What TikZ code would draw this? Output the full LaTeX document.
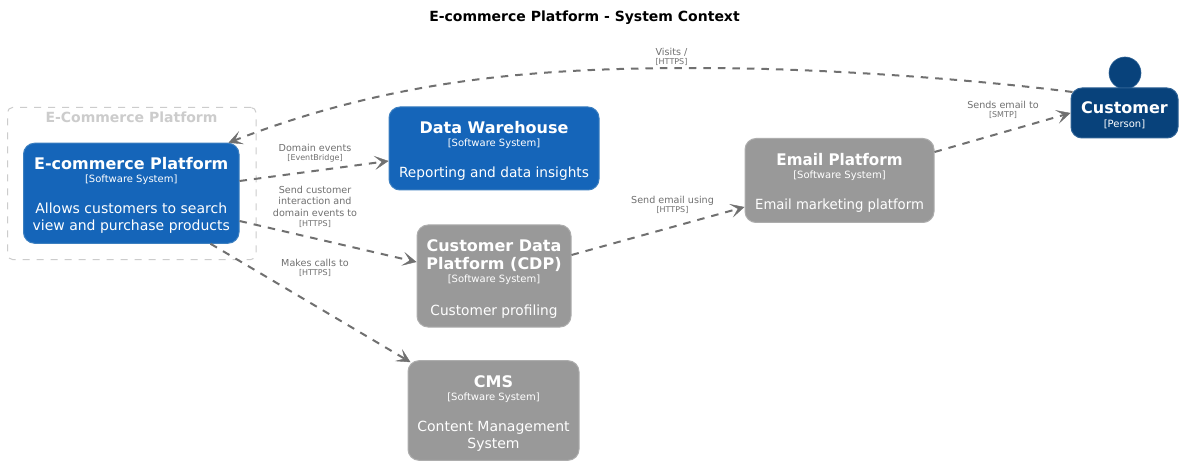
\documentclass[tikz,border=0pt]{standalone}
\usepackage{fontspec}
\setmainfont{DejaVu Sans}
\usetikzlibrary{arrows.meta,calc}
\definecolor{c4blue}{HTML}{1565B9}
\definecolor{c4blueb}{HTML}{3C7FC0}
\definecolor{c4navy}{HTML}{08427B}
\definecolor{c4navyb}{HTML}{2E6295}
\definecolor{c4grey}{HTML}{999999}
\definecolor{c4greyb}{HTML}{ADADAD}
\definecolor{c4line}{HTML}{707070}
\definecolor{c4bound}{HTML}{CCCCCC}
\newcommand{\nmf}{\fontsize{16}{0}\selectfont\bfseries}
\newcommand{\tyf}{\fontsize{10}{0}\selectfont}
\newcommand{\dsf}{\fontsize{14}{0}\selectfont}
\newcommand{\lbf}{\fontsize{9.6}{0}\selectfont}
\newcommand{\lsf}{\fontsize{8}{0}\selectfont}
\newcommand{\sT}[1]{\rule{0pt}{#1pt}}
\newcommand{\sB}[1]{\rule[-#1pt]{0pt}{#1pt}}
\tikzset{
 x=1pt,y=-1pt,
 box/.style={rounded corners=11pt,line width=1pt,text=white,align=center,inner sep=0pt,anchor=center,
   execute at begin node={\lineskiplimit=-100pt\baselineskip=0pt}},
 sysblue/.style={box,fill=c4blue,draw=c4blueb},
 sysgrey/.style={box,fill=c4grey,draw=c4greyb},
 person/.style={box,fill=c4navy,draw=c4navyb},
 rel/.style={draw=c4line,line width=2pt,dash pattern=on 7.5pt off 7pt,
   -{Stealth[length=14pt,width=14pt,inset=7pt,line width=0.4pt]}},
 lab/.style={text=c4line,align=center,inner sep=0pt,
   execute at begin node={\lineskiplimit=-100pt\baselineskip=0pt}},
}
\begin{document}
\begin{tikzpicture}
\useasboundingbox (0,0) rectangle (1183,465);
\fill[white] (0,0) rectangle (1183,465);
\node[inner sep=0pt,text=black] (title) at (584.5,18) {\fontsize{14}{16}\selectfont\bfseries E-commerce Platform - System Context};
\node[draw=c4bound,rounded corners=5pt,dash pattern=on 7pt off 7pt,line width=1pt,minimum width=248.5pt,minimum height=152pt,inner sep=0pt] (bound) at (131.75,183.5) {};
\node[text=c4bound,inner sep=0pt] (boundlab) at (131.5,117) {\fontsize{14}{16}\selectfont\bfseries E-Commerce Platform};
\node[sysblue,minimum width=215.5pt,minimum height=99.5pt] (ecom) at (131.25,193.25) {\sT{26.2}{\nmf E-commerce Platform}\\[13.5pt]{\tyf [Software System]}\\[30.5pt]{\dsf Allows customers to search}\\[17pt]\sB{12.8}{\dsf view and purchase products}};
\node[sysblue,minimum width=210pt,minimum height=83pt] (dw) at (494,148.5) {\sT{26.2}{\nmf Data Warehouse}\\[13.7pt]{\tyf [Software System]}\\[31pt]\sB{12}{\scalebox{.98}[1]{\dsf Reporting and data insights}}};
\node[sysgrey,minimum width=154pt,minimum height=102pt] (cdp) at (494,276) {\sT{25.7}{\nmf Customer Data}\\[18pt]{\nmf Platform (CDP)}\\[13.5pt]{\tyf [Software System]}\\[32.5pt]\sB{11.5}{\scalebox{.98}[1]{\dsf Customer profiling}}};
\node[sysgrey,minimum width=171pt,minimum height=99pt] (cms) at (493.5,410.5) {\sT{26.6}{\nmf CMS}\\[13pt]{\tyf [Software System]}\\[31pt]{\dsf Content Management}\\[17pt]\sB{12}{\dsf System}};
\node[sysgrey,minimum width=189pt,minimum height=83pt] (email) at (839.5,180.5) {\sT{26.8}{\scalebox{.947}[1]{\nmf Email Platform}}\\[13.2pt]{\tyf [Software System]}\\[31pt]\sB{13}{\scalebox{.945}[1]{\dsf Email marketing platform}}};
\node[circle,fill=c4navy,draw=c4navyb,line width=.6pt,minimum size=32pt,inner sep=0pt] (head) at (1125,73) {};
\node[person,minimum width=107pt,minimum height=50pt] (cust) at (1124.5,113) {\sT{26}{\nmf Customer}\\[13.7pt]\sB{10.3}{\tyf [Person]}};
% connectors
\coordinate (peak) at (700,68);
\draw[rel] ([yshift=12.25pt]ecom.east) -- ([yshift=-12.5pt]dw.west);
\draw[rel] ([yshift=-27.75pt]ecom.east) -- ([yshift=14pt]cdp.west);
\draw[rel] ([xshift=-29pt]ecom.south east) -- ([xshift=3pt,yshift=-2pt]cms.north west);
\draw[rel] ([yshift=21pt]cdp.east) -- ([yshift=-26.5pt]email.west);
\draw[rel] ([yshift=28.5pt]email.east) -- (cust.west);
\draw[rel] ([xshift=2pt,yshift=21pt]cust.west) .. controls (970,79) and (820,68) .. (peak) .. controls (560,68) and (405,74) .. ([xshift=-11pt]ecom.north east);
% labels
\node[lab] (l1) at (671.5,56.8) {\sT{8}{\lbf Visits /}\\[9.5pt]\sB{2}{\lsf [HTTPS]}};
\node[lab] (l3) at (315,153.5) {\sT{8}{\lbf Domain events}\\[9pt]\sB{2}{\lsf [EventBridge]}};
\node[lab] (l4) at (315,206.7) {\sT{8}{\lbf Send customer}\\[11.5pt]{\lbf interaction and}\\[11.5pt]{\lbf domain events to}\\[10pt]\sB{2}{\lsf [HTTPS]}};
\node[lab] (l5) at (315,268.2) {\sT{8}{\lbf Makes calls to}\\[9pt]\sB{2}{\lsf [HTTPS]}};
\node[lab] (l6) at (672.5,205.3) {\sT{8}{\lbf Send email using}\\[9pt]\sB{2}{\lsf [HTTPS]}};
\node[lab] (l7) at (1003,110) {\sT{8}{\lbf Sends email to}\\[9pt]\sB{2}{\lsf [SMTP]}};
\end{tikzpicture}
\end{document}
